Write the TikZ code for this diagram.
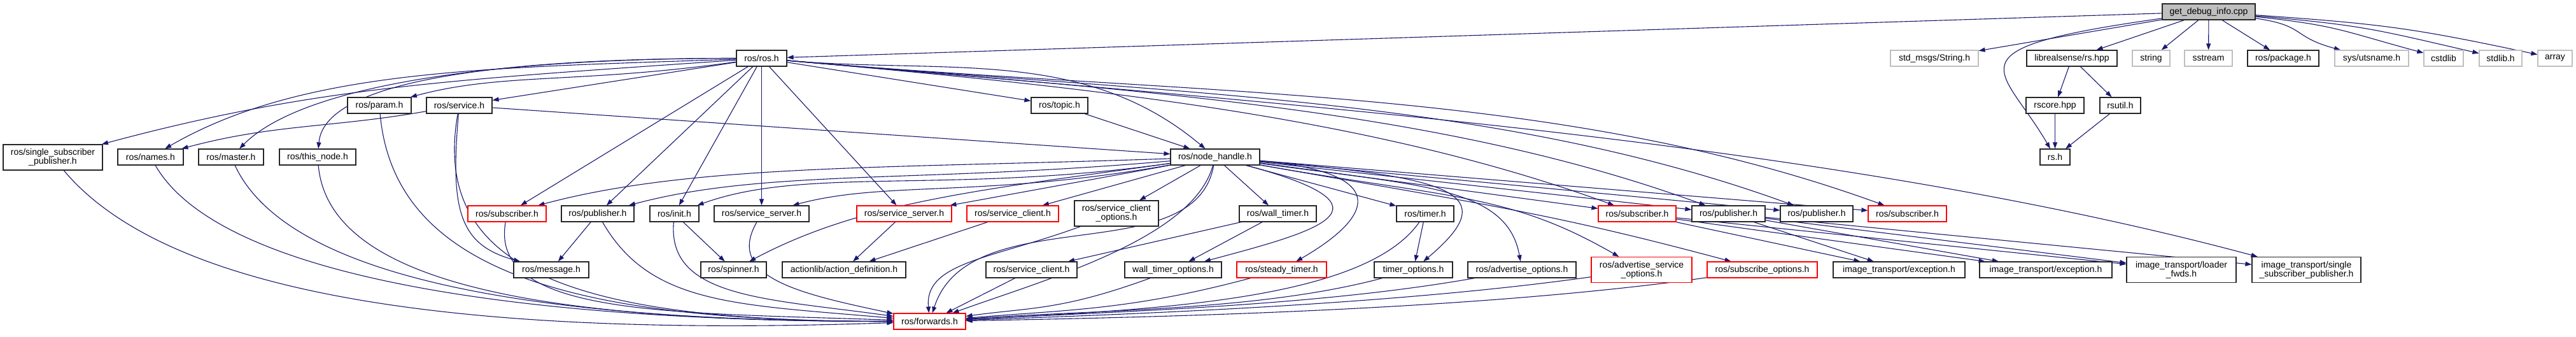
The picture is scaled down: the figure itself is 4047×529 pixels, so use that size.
\documentclass[tikz,border=0pt]{standalone}
\usepackage{fontspec}
\setmainfont{Liberation Sans}
\usetikzlibrary{arrows.meta,backgrounds}
\definecolor{edgeblue}{RGB}{25,25,112}
\definecolor{sysgray}{RGB}{191,191,191}
\definecolor{cutred}{RGB}{255,0,0}

\begin{document}
\begin{tikzpicture}[
  x=1pt, y=-1pt,
  font=\fontsize{14pt}{14pt}\selectfont,
  hdr/.style={draw=black!85, line width=1.2pt, fill=white, inner sep=0pt,
              minimum height=25pt, align=center},
  sys/.style={hdr, draw=sysgray},
  cut/.style={hdr, draw=cutred},
  root/.style={hdr, fill=sysgray},
  tall/.style={minimum height=40pt},
  arrow/.style={-{Triangle[length=10pt,width=7pt]}, draw=edgeblue, line width=1.1pt}
]
\useasboundingbox (0,0) rectangle (4047,529);

% row 0
\node[root, minimum width=146pt] (gdi) at (3470,18.5) {get\_debug\_info.cpp};

% row 1
\node[hdr, minimum width=79pt]  (rosh)    at (1196.5,91.5) {ros/ros.h};
\node[sys, minimum width=138pt] (stdstr)  at (3039,91.5)   {std\_msgs/String.h};
\node[hdr, minimum width=142pt] (lrs)     at (3255,91.5)   {librealsense/rs.hpp};
\node[sys, minimum width=59pt]  (string)  at (3379.5,91.5) {string};
\node[sys, minimum width=75pt]  (sstream) at (3469.5,91.5) {sstream};
\node[hdr, minimum width=112pt] (pkg)     at (3587,91.5)   {ros/package.h};
\node[sys, minimum width=116pt] (uts)     at (3726,91.5)   {sys/utsname.h};
\node[sys, minimum width=62pt]  (cstdlib) at (3839,91.5)   {cstdlib};
\node[sys, minimum width=67pt]  (stdlib)  at (3928.5,91.5) {stdlib.h};
\node[sys, minimum width=54pt]  (array)   at (4014,91.5)   {array};

% row 2
\node[hdr, minimum width=100pt] (param)   at (596,165.5)    {ros/param.h};
\node[hdr, minimum width=103pt] (service) at (721.5,165.5)  {ros/service.h};
\node[hdr, minimum width=89pt]  (topic)   at (1664.5,165.5) {ros/topic.h};
\node[hdr, minimum width=91pt]  (rscore)  at (3228.5,165.5) {rscore.hpp};
\node[hdr, minimum width=64pt]  (rsutil)  at (3331,165.5)   {rsutil.h};

% row 3
\node[hdr, tall, minimum width=156pt] (ssp) at (83,247) {ros/single\_subscriber\\\_publisher.h};
\node[hdr, minimum width=103pt] (names)    at (236.5,246.5) {ros/names.h};
\node[hdr, minimum width=102pt] (master)   at (363,246.5)   {ros/master.h};
\node[hdr, minimum width=120pt] (thisnode) at (499,246.5)   {ros/this\_node.h};
\node[hdr, minimum width=140pt] (nh)       at (1909,246.5)  {ros/node\_handle.h};
\node[hdr, minimum width=47pt]  (rs)       at (3228.5,246.5) {rs.h};

% row 4
\node[cut, minimum width=123pt] (sub1)  at (796.5,335.5)  {ros/subscriber.h};
\node[hdr, minimum width=114pt] (pub1)  at (939,335.5)    {ros/publisher.h};
\node[hdr, minimum width=77pt]  (init)  at (1059.5,335.5) {ros/init.h};
\node[hdr, minimum width=149pt] (srv1)  at (1196.5,335.5) {ros/service\_server.h};
\node[cut, minimum width=149pt] (srv2)  at (1420.5,335.5) {ros/service\_server.h};
\node[cut, minimum width=144pt] (cli1)  at (1591,335.5)   {ros/service\_client.h};
\node[hdr, tall, minimum width=132pt] (clio) at (1754,335) {ros/service\_client\\\_options.h};
\node[hdr, minimum width=121pt] (wt)    at (2007.5,335.5) {ros/wall\_timer.h};
\node[hdr, minimum width=90pt]  (timer) at (2239,335.5)   {ros/timer.h};
\node[cut, minimum width=122pt] (sub2)  at (2572,335.5)   {ros/subscriber.h};
\node[hdr, minimum width=115pt] (pub2)  at (2715.5,335.5) {ros/publisher.h};
\node[hdr, minimum width=114pt] (pub3)  at (2854,335.5)   {ros/publisher.h};
\node[cut, minimum width=123pt] (sub3)  at (2996.5,335.5) {ros/subscriber.h};

% row 5
\node[hdr, minimum width=118pt] (msg)    at (866,423.5)    {ros/message.h};
\node[hdr, minimum width=103pt] (spin)   at (1152.5,423.5) {ros/spinner.h};
\node[hdr, minimum width=194pt] (actdef) at (1326,423.5)   {actionlib/action\_definition.h};
\node[hdr, minimum width=143pt] (cli2)   at (1620.5,423.5) {ros/service\_client.h};
\node[hdr, minimum width=152pt] (wto)    at (1843,423.5)   {wall\_timer\_options.h};
\node[cut, minimum width=141pt] (steady) at (2013.5,423.5) {ros/steady\_timer.h};
\node[hdr, minimum width=123pt] (tmo)    at (2220.5,423.5) {timer\_options.h};
\node[hdr, minimum width=170pt] (advo)   at (2391,423.5)   {ros/advertise\_options.h};
\node[cut, tall, minimum width=158pt] (advso) at (2579,423.5) {ros/advertise\_service\\\_options.h};
\node[cut, minimum width=173pt] (subo)   at (2768.5,423.5) {ros/subscribe\_options.h};
\node[hdr, minimum width=207pt] (exc1)   at (2983.5,423.5) {image\_transport/exception.h};
\node[hdr, minimum width=208pt] (exc2)   at (3214,423.5)   {image\_transport/exception.h};
\node[hdr, tall, minimum width=172pt] (lfwds) at (3427,423.5) {image\_transport/loader\\\_fwds.h};
\node[hdr, tall, minimum width=171pt] (itssp) at (3623.5,423.5) {image\_transport/single\\\_subscriber\_publisher.h};

% row 6
\node[cut, minimum width=113pt] (fwd) at (1460.5,504.5) {ros/forwards.h};

\begin{scope}[on background layer]
% straight includes
\foreach \a/\b in {gdi/rosh, gdi/stdstr, gdi/lrs, gdi/string, gdi/sstream, gdi/pkg,
                   lrs/rscore, lrs/rsutil, rscore/rs, rsutil/rs,
                   rosh/service, rosh/topic, rosh/sub1, rosh/pub1, rosh/init, rosh/srv1,
                   rosh/srv2, topic/nh, service/nh, nh/srv2, nh/cli1, nh/clio, nh/wt,
                   nh/timer, nh/sub2, nh/pub2, nh/pub3, nh/sub3, pub1/msg, init/spin,
                   srv2/actdef, cli1/actdef, wt/wto, wt/cli2, timer/tmo, cli2/fwd,
                   sub2/exc1, sub2/exc2, sub2/lfwds, pub2/exc1, pub2/exc2,
                   pub2/lfwds, pub2/itssp}
  \draw[arrow] (\a) -- (\b);

% curved includes: from/to/out/in/out length/in length
\foreach \a/\b/\o/\i/\l/\m in {gdi/uts/-8/165/80/80, gdi/cstdlib/-6/165/130/130,
        gdi/stdlib/-5/167/170/170, gdi/array/-4/168/200/200, gdi/rs/188/120/350/150,
        rosh/ssp/184/15/450/350, rosh/names/182/30/400/250, rosh/master/180/45/350/150,
        rosh/thisnode/180/85/300/120, rosh/param/188/15/250/150, rosh/nh/-5/140/250/250,
        rosh/sub2/-5/160/500/400, rosh/pub2/-5/160/550/450, rosh/pub3/-5/160/600/500,
        rosh/sub3/-5/160/650/550, rosh/itssp/-5/165/800/700,
        service/names/190/15/150/150, service/msg/-95/165/150/100,
        service/fwd/-100/180/250/500, param/fwd/-85/180/250/500,
        names/fwd/-60/180/200/600, master/fwd/-65/180/200/550,
        thisnode/fwd/-85/180/200/500, ssp/fwd/-50/182/250/700,
        sub1/fwd/-100/178/150/350, pub1/fwd/-60/175/150/250,
        init/fwd/-95/172/120/200, srv1/fwd/-120/168/100/150,
        nh/sub1/182/15/450/250, nh/pub1/185/15/400/220, nh/init/188/20/350/180,
        nh/srv1/190/15/300/150, nh/spin/188/28/300/200,
        nh/fwd/-100/72/170/190, nh/fwd/-105/20/120/150,
        nh/wto/-15/15/260/180, nh/steady/-5/30/200/150, nh/tmo/-5/40/300/170,
        nh/advo/-8/100/250/120, nh/advso/-10/150/300/200, nh/subo/-10/165/350/300,
        clio/fwd/200/95/150/80, timer/fwd/-125/3/150/300, wto/fwd/-160/8/150/100,
        steady/fwd/-165/5/200/150, tmo/fwd/-165/4/200/200, advo/fwd/-170/3/250/250,
        advso/fwd/-172/2/300/300, subo/fwd/-172/1/350/350}
  \draw[arrow] (\a.\o) .. controls +(\o:\l pt) and +(\i:\m pt) .. (\b.\i);
\end{scope}
\end{tikzpicture}
\end{document}
